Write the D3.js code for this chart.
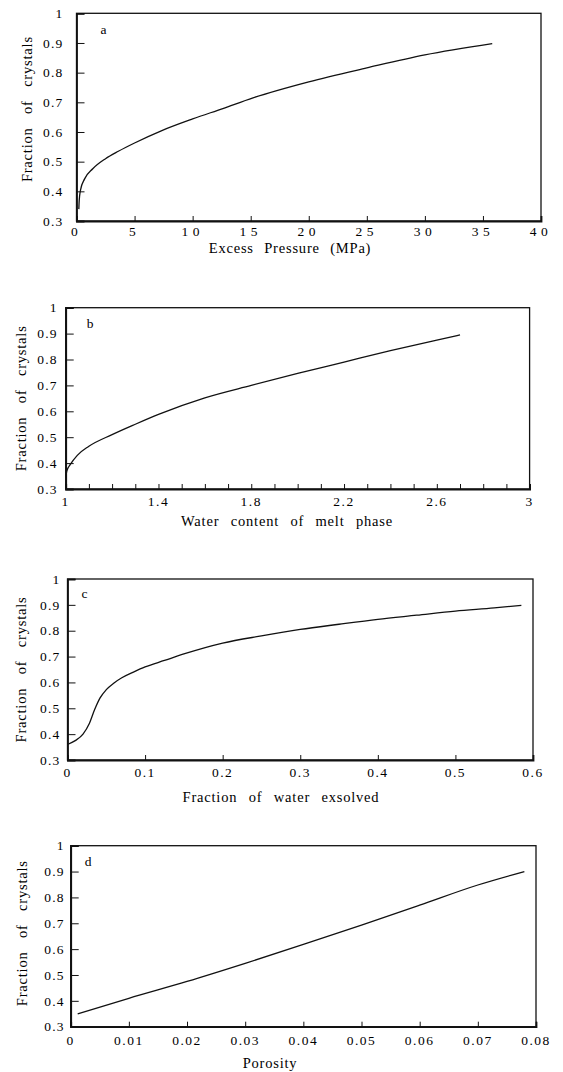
<!DOCTYPE html>
<html>
<head>
<meta charset="utf-8">
<script src="https://cdn.jsdelivr.net/npm/d3@7"></script>
<style>
  html, body { margin: 0; padding: 0; background: #fff; }
  svg { display: block; }
  text { font-family: "Liberation Serif", "DejaVu Serif", serif; fill: #000; }
</style>
</head>
<body>
<svg id="chart" width="563" height="1072"></svg>
<script>
// ---------- DATA ----------
const yTicks = [0.3, 0.4, 0.5, 0.6, 0.7, 0.8, 0.9, 1];
const yTickLabels = ["0.3", "0.4", "0.5", "0.6", "0.7", "0.8", "0.9", "1"];
const yTitle = "Fraction of crystals";

// Panel a
const aX = [0.2, 0.22, 0.27, 0.35, 0.7, 1.4, 2.5, 3.6, 5, 7.3, 10, 12.6, 15.2, 20, 25, 30, 35.8];
const aY = [0.34, 0.36, 0.385, 0.405, 0.442, 0.476, 0.51, 0.535, 0.563, 0.604, 0.644, 0.679, 0.715, 0.769, 0.816, 0.86, 0.898];
const aXTicks = [0, 5, 10, 15, 20, 25, 30, 35, 40];
const aXTickLabels = ["0", "5", "10", "15", "20", "25", "30", "35", "40"];
const aTitle = "Excess Pressure (MPa)";

// Panel b
const bX = [1.0, 1.005, 1.02, 1.05, 1.1, 1.2, 1.3, 1.4, 1.6, 1.8, 2.0, 2.2, 2.4, 2.6, 2.7];
const bY = [0.345, 0.37, 0.395, 0.43, 0.465, 0.51, 0.55, 0.588, 0.652, 0.70, 0.746, 0.79, 0.834, 0.875, 0.895];
const bXTicks = [1, 1.1, 1.2, 1.3, 1.4, 1.5, 1.6, 1.7, 1.8, 1.9, 2, 2.1, 2.2, 2.3, 2.4, 2.5, 2.6, 2.7, 2.8, 2.9, 3];
const bXLabelTicks = [1, 1.4, 1.8, 2.2, 2.6, 3];
const bXTickLabels = ["1", "1.4", "1.8", "2.2", "2.6", "3"];
const bTitle = "Water content of melt phase";

// Panel c
const cX = [0, 0.01, 0.02, 0.028, 0.035, 0.042, 0.05, 0.06, 0.07, 0.085, 0.1, 0.125, 0.15, 0.2, 0.25, 0.3, 0.35, 0.4, 0.45, 0.5, 0.55, 0.585];
const cY = [0.36, 0.375, 0.40, 0.44, 0.495, 0.54, 0.572, 0.598, 0.618, 0.64, 0.66, 0.685, 0.71, 0.752, 0.78, 0.805, 0.825, 0.844, 0.86, 0.876, 0.888, 0.898];
const cXTicks = [0, 0.1, 0.2, 0.3, 0.4, 0.5, 0.6];
const cXTickLabels = ["0", "0.1", "0.2", "0.3", "0.4", "0.5", "0.6"];
const cTitle = "Fraction of water exsolved";

// Panel d
const dX = [0.0012, 0.01, 0.02, 0.03, 0.04, 0.05, 0.06, 0.07, 0.078];
const dY = [0.35, 0.41, 0.475, 0.545, 0.618, 0.693, 0.77, 0.848, 0.9];
const dXTicks = [0, 0.01, 0.02, 0.03, 0.04, 0.05, 0.06, 0.07, 0.08];
const dXTickLabels = ["0", "0.01", "0.02", "0.03", "0.04", "0.05", "0.06", "0.07", "0.08"];
const dTitle = "Porosity";

// ---------- LAYOUT ----------
const panels = [
  { letter: "a", xs: aX, ys: aY, xDomain: [0, 40], ticks: aXTicks, labelTicks: aXTicks, labels: aXTickLabels, title: aTitle,
    box: { l: 76.5, r: 541, t: 13.3, b: 221 }, xlab: 10, xls: 4.5, ylab: 13, ttl: 27, ttx: 290, tws: 6, ytx: 27, ytyOff: -8, lx: 24, ly: 16 },
  { letter: "b", xs: bX, ys: bY, xDomain: [1, 3], ticks: bXTicks, labelTicks: bXLabelTicks, labels: bXTickLabels, title: bTitle,
    box: { l: 65.7, r: 529.6, t: 307.7, b: 489 }, xlab: 12, xls: 1.5, ylab: 8, ttl: 32, ttx: 287, tws: 7, ytx: 21, ytyOff: 0, lx: 21, ly: 16 },
  { letter: "c", xs: cX, ys: cY, xDomain: [0, 0.6], ticks: cXTicks, labelTicks: cXTicks, labels: cXTickLabels, title: cTitle,
    box: { l: 67.5, r: 533, t: 579, b: 760 }, xlab: 12, xls: 1.5, ylab: 7, ttl: 37, ttx: 281, tws: 7, ytx: 21, ytyOff: 0, lx: 14, ly: 14 },
  { letter: "d", xs: dX, ys: dY, xDomain: [0, 0.08], ticks: dXTicks, labelTicks: dXTicks, labels: dXTickLabels, title: dTitle,
    box: { l: 70.7, r: 536, t: 845.7, b: 1026.7 }, xlab: 14, xls: 1.5, ylab: 6, ttl: 36, ttx: 270, tws: 7, ytx: 22, ytyOff: -3, lx: 14, ly: 16 }
];

const FONT = "'Liberation Serif', 'DejaVu Serif', serif";
const svg = d3.select("#chart");

panels.forEach(p => {
  const B = p.box;
  const x = d3.scaleLinear().domain(p.xDomain).range([B.l, B.r]);
  const y = d3.scaleLinear().domain([0.3, 1]).range([B.b, B.t]);
  const g = svg.append("g").attr("font-family", FONT);

  // frame
  g.append("rect").attr("x", B.l).attr("y", B.t).attr("width", B.r - B.l).attr("height", B.b - B.t)
    .attr("fill", "none").attr("stroke", "#111").attr("stroke-width", 1.3);

  // left axis (inward ticks)
  const yAxis = d3.axisRight(y).tickValues(yTicks).tickSize(8).tickFormat("");
  const ya = g.append("g").attr("transform", `translate(${B.l},0)`).call(yAxis);
  ya.select(".domain").attr("stroke", "#111").attr("stroke-width", 1.8);
  ya.selectAll(".tick line").attr("stroke", "#111").attr("stroke-width", 1);

  // bottom axis (inward ticks)
  const xAxis = d3.axisTop(x).tickValues(p.ticks).tickSize(5).tickFormat("");
  const xa = g.append("g").attr("transform", `translate(0,${B.b})`).call(xAxis);
  xa.select(".domain").attr("stroke", "#111").attr("stroke-width", 1.8);
  xa.selectAll(".tick line").attr("stroke", "#111").attr("stroke-width", 1);

  // y tick labels
  g.selectAll(".ylab").data(yTicks).enter().append("text")
    .attr("font-family", FONT)
    .attr("x", B.l - p.ylab).attr("y", d => y(d)).attr("dy", "0.35em")
    .attr("text-anchor", "end").attr("font-size", 13.5).style("letter-spacing", "1.2px")
    .text((d, i) => yTickLabels[i]);

  // x tick labels
  g.selectAll(".xlab").data(p.labelTicks).enter().append("text")
    .attr("font-family", FONT)
    .attr("x", d => x(d)).attr("y", B.b + p.xlab).attr("dy", "0.35em")
    .attr("text-anchor", "middle").attr("font-size", 13.5).style("letter-spacing", p.xls + "px")
    .text((d, i) => p.labels[i]);

  // x title
  g.append("text").attr("font-family", FONT)
    .attr("x", p.ttx).attr("y", B.b + p.ttl).attr("dy", "0.35em")
    .attr("text-anchor", "middle").attr("font-size", 14.5)
    .style("letter-spacing", "0.8px").style("word-spacing", p.tws + "px")
    .text(p.title);

  // y title
  const yc = (B.t + B.b) / 2 + p.ytyOff;
  g.append("text").attr("font-family", FONT)
    .attr("transform", `translate(${p.ytx},${yc}) rotate(-90)`).attr("dy", "0.35em")
    .attr("text-anchor", "middle").attr("font-size", 14.5)
    .style("letter-spacing", "0.8px").style("word-spacing", "9px")
    .text(yTitle);

  // panel letter
  g.append("text").attr("font-family", FONT)
    .attr("x", B.l + p.lx).attr("y", B.t + p.ly).attr("dy", "0.35em")
    .attr("font-size", 13.5).text(p.letter);

  // curve
  const pts = p.xs.map((v, i) => [v, p.ys[i]]);
  const line = d3.line().x(d => x(d[0])).y(d => y(d[1])).curve(d3.curveMonotoneX);
  g.append("path").datum(pts).attr("d", line)
    .attr("fill", "none").attr("stroke", "#111").attr("stroke-width", 1.3);
});
</script>
</body>
</html>
